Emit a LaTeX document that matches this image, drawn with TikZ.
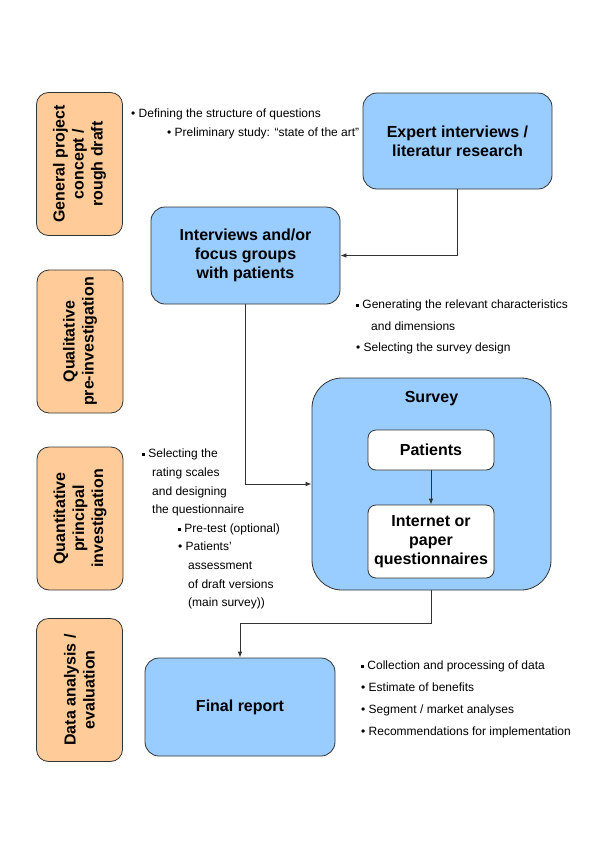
\documentclass[tikz,border=0pt]{standalone}
\usepackage{fontspec}
\setmainfont{Liberation Sans}
\usetikzlibrary{arrows.meta}
\definecolor{peach}{HTML}{FFCC99}
\definecolor{skyb}{HTML}{99CCFF}
\definecolor{edgec}{HTML}{333333}
\newcommand{\sqb}{\raisebox{0.28ex}{\rule{0.24em}{0.24em}}}
\begin{document}
\begin{tikzpicture}[x=1pt,y=-1pt,
  phase/.style={draw=edgec, line width=0.8pt, fill=peach, rounded corners=12pt,
    rotate=90, minimum width=143pt, minimum height=86pt, inner sep=0pt,
    align=center, font=\fontsize{16}{19}\selectfont\bfseries},
  stepbox/.style={draw=edgec, line width=0.8pt, fill=skyb, rounded corners=14pt,
    align=center, inner sep=0pt, font=\fontsize{16}{19}\selectfont\bfseries},
  whitebox/.style={stepbox, fill=white, rounded corners=8pt},
  notes/.style={anchor=north west, inner sep=0pt, align=left},
  conn/.style={draw=edgec, line width=0.8pt, -{Latex[length=6pt,width=4.5pt]}}]
\useasboundingbox (0,0) rectangle (600,849);

% phase labels
\node[phase] (p1) at (79.5,164) {General project\\concept /\\rough draft};
\node[phase] (p2) at (80,341.5) {Qualitative\\pre-investigation};
\node[phase] (p3) at (80,518.5) {Quantitative\\principal\\investigation};
\node[phase] (p4) at (79.5,690) {Data analysis /\\evaluation};

% process boxes
\node[stepbox, minimum width=189pt, minimum height=96pt] (expert) at (457.5,141)
  {Expert interviews /\\literatur research};
\node[stepbox, minimum width=189pt, minimum height=97pt] (interviews) at (245.5,255.5)
  {Interviews and/or\\focus groups\\with patients};
\node[stepbox, rounded corners=30pt, minimum width=239pt, minimum height=212pt] (survey) at (431.5,484) {};
\node[inner sep=0pt, font=\fontsize{16}{19}\selectfont\bfseries] (surveyt) at (431.5,399) {Survey};
\node[whitebox, minimum width=126pt, minimum height=40pt] (patients) at (431,450) {Patients};
\node[whitebox, minimum width=126pt, minimum height=73pt] (internet) at (431,541.5)
  {Internet or\\paper\\questionnaires};
\node[stepbox, minimum width=190pt, minimum height=98pt] (final) at (240,707) {Final report};

% notes
\node[notes, font=\fontsize{12}{19}\selectfont] (n1) at (131,109)
  {\textbullet\ Defining the structure of questions\\
   \hspace*{36pt}\textbullet\ Preliminary study: “state of the art”};
\node[notes, font=\fontsize{12}{21.5}\selectfont] (n2) at (356,300)
  {\sqb\ Generating the relevant characteristics\\
   \hspace*{15pt}and dimensions\\
   \textbullet\ Selecting the survey design};
\node[notes, font=\fontsize{12}{18.6}\selectfont] (n3) at (142,449)
  {\sqb\ Selecting the\\
   \hspace*{10pt}rating scales\\
   \hspace*{10pt}and designing\\
   \hspace*{10pt}the questionnaire\\
   \hspace*{36pt}\sqb\ Pre-test (optional)\\
   \hspace*{36pt}\textbullet\ Patients’\\
   \hspace*{46pt}assessment\\
   \hspace*{46pt}of draft versions\\
   \hspace*{46pt}(main survey))};
\node[notes, font=\fontsize{12}{21.7}\selectfont] (n4) at (361,661)
  {\sqb\ Collection and processing of data\\
   \textbullet\ Estimate of benefits\\
   \textbullet\ Segment / market analyses\\
   \textbullet\ Recommendations for implementation};

% connectors
\coordinate (bend) at (240,623);
\draw[conn] (expert.south) |- (interviews.east);
\draw[conn] (interviews.south) |- (survey.west);
\draw[conn] (patients.south) -- (internet.north);
\draw[conn] (survey.south) |- (bend) -- (final.north);
\end{tikzpicture}
\end{document}
